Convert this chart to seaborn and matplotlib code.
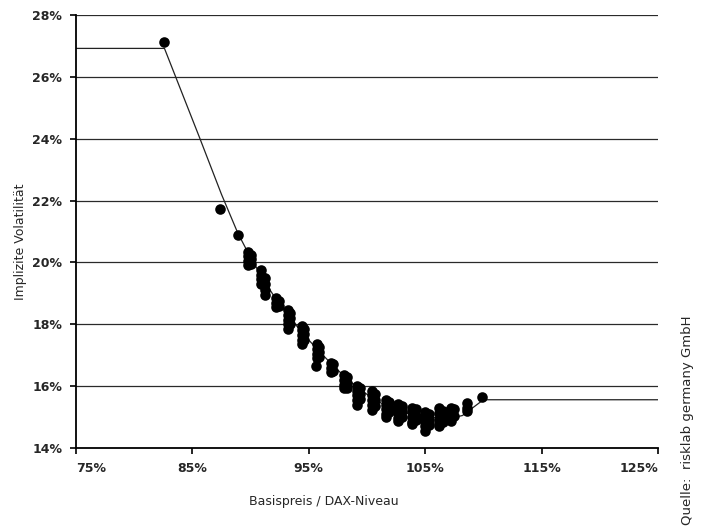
import matplotlib
matplotlib.use("Agg")
import matplotlib.pyplot as plt
import seaborn as sns
import pandas as pd

# ---- data (percent units) ----
strike_groups = [82.6, 87.4, 88.95, 89.8, 90.0, 90.9, 91.2, 92.2, 92.4, 93.2, 93.4, 94.4, 94.6,
                 95.7, 95.9, 95.6, 96.9, 97.1, 98.0, 98.3, 99.1, 99.4, 100.4, 100.7,
                 101.6, 101.9, 102.7, 103.0, 103.9, 104.2, 105.0, 105.3, 106.2, 106.5,
                 107.2, 107.5, 108.6, 109.9]
vol_groups = [
    [27.14],
    [21.73],
    [20.89],
    [20.35, 20.2, 20.05, 19.92],
    [20.25, 20.1, 19.95],
    [19.75, 19.6, 19.45, 19.3],
    [19.5, 19.3, 19.1, 18.95],
    [18.85, 18.7, 18.55],
    [18.75, 18.6],
    [18.45, 18.3, 18.15, 18.0, 17.85],
    [18.35, 18.2, 18.0],
    [17.95, 17.8, 17.65, 17.5, 17.35],
    [17.85, 17.7, 17.5],
    [17.35, 17.2, 17.05, 16.9],
    [17.25, 17.1, 16.95],
    [16.64],
    [16.75, 16.6, 16.45],
    [16.7, 16.5],
    [16.35, 16.2, 16.05, 15.95],
    [16.3, 16.1, 15.95],
    [16.0, 15.85, 15.7, 15.55, 15.4],
    [15.95, 15.75, 15.6],
    [15.85, 15.7, 15.55, 15.4, 15.22],
    [15.75, 15.55, 15.35],
    [15.55, 15.4, 15.25, 15.1, 15.0],
    [15.5, 15.3, 15.15],
    [15.42, 15.28, 15.12, 14.98, 14.88],
    [15.35, 15.2, 15.0],
    [15.3, 15.15, 15.0, 14.85, 14.78],
    [15.25, 15.05, 14.9],
    [15.15, 15.0, 14.85, 14.7, 14.55],
    [15.1, 14.9, 14.75],
    [15.28, 15.12, 14.95, 14.8, 14.72],
    [15.2, 15.0, 14.85],
    [15.3, 15.15, 15.0, 14.88],
    [15.25, 15.05],
    [15.45, 15.3, 15.2],
    [15.66],
]

line_x = [75, 82.6, 85.6, 87.5, 88.9, 89.8, 91.0, 92.2, 93.3, 94.5, 95.7, 97.0, 98.1,
          99.2, 100.5, 101.7, 102.8, 104.1, 105.1, 106.4, 107.4, 108.2, 110.0, 125]
line_y = [26.92, 26.92, 24.05, 22.2, 20.95, 20.3, 19.5, 18.8, 18.25, 17.7, 17.2, 16.7, 16.3,
          15.95, 15.6, 15.35, 15.2, 15.05, 15.0, 14.98, 14.98, 15.05, 15.56, 15.56]

x_ticks = [75, 85, 95, 105, 115, 125]
y_ticks = [14, 16, 18, 20, 22, 24, 26, 28]

rows = [(s, v) for s, vs in zip(strike_groups, vol_groups) for v in vs]
pts = pd.DataFrame(rows, columns=["strike", "vol"])
curve = pd.DataFrame({"strike": line_x, "vol": line_y})

sns.set_style("white")
plt.rcParams["font.family"] = ["DejaVu Sans"]

fig = plt.figure(figsize=(7.02, 5.28), dpi=100)
ax = fig.add_axes([76 / 702, 1 - 448 / 528, 582 / 702, 433 / 528])

for yv in y_ticks[1:]:
    ax.axhline(yv, color="#2a2a2a", lw=0.9, zorder=1)

sns.lineplot(data=curve, x="strike", y="vol", ax=ax, sort=False, estimator=None,
             color="#222222", lw=0.9, zorder=2)
sns.scatterplot(data=pts, x="strike", y="vol", ax=ax, color="black", s=58,
                edgecolor="black", linewidth=0, zorder=3)

ax.set_xlim(75, 125)
ax.set_ylim(14, 28)
ax.set_xticks(x_ticks)
ax.set_yticks(y_ticks)
ax.set_xticklabels([f"{t}%" for t in x_ticks], fontweight="bold", fontsize=9)
ax.set_yticklabels([f"{t}%" for t in y_ticks], fontweight="bold", fontsize=9)
xl = ax.get_xticklabels()
xl[0].set_horizontalalignment("left")
xl[-1].set_horizontalalignment("right")

for side in ["top", "right"]:
    ax.spines[side].set_visible(False)
for side in ["left", "bottom"]:
    ax.spines[side].set_color("black")
    ax.spines[side].set_linewidth(1.3)
ax.tick_params(axis="both", direction="out", length=4, width=1.2, color="black",
               bottom=True, left=True)
ax.tick_params(axis="x", pad=6)
ax.tick_params(axis="y", pad=6)

ax.set_xlabel("Basispreis / DAX-Niveau", fontsize=9)
ax.set_ylabel("Implizite Volatilität", fontsize=9)
ax.xaxis.set_label_coords((324 - 76) / 582, (448 - 495) / 433)
ax.yaxis.set_label_coords((27 - 76) / 582, (448 - 242) / 433)

fig.text(688 / 702, 0.006, "Quelle:  risklab germany GmbH", rotation=90,
         ha="center", va="bottom", fontsize=9.5)

fig.savefig("out.png", dpi=100)
